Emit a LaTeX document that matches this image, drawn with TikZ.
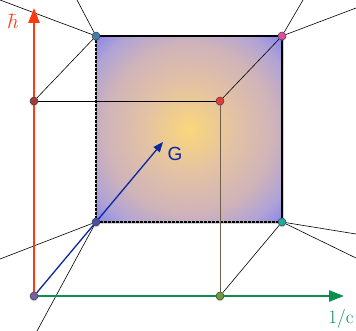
\documentclass[tikz,border=0pt]{standalone}
\usepackage{fontspec}
\newfontfamily\labelsans{Liberation Sans}
\usetikzlibrary{arrows.meta,shadows}
\pgfdeclarelayer{background}
\pgfsetlayers{background,main}
\definecolor{hbarred}{HTML}{FF3A12}
\definecolor{cgreen}{HTML}{0A8F4E}
\definecolor{gblue}{HTML}{0B26A0}
\definecolor{glowin}{HTML}{FAD77A}
\definecolor{glowwarm}{HTML}{E4C3A2}
\definecolor{glowmid}{HTML}{CFB3BA}
\definecolor{glowcool}{HTML}{AFA2D6}
\definecolor{glowout}{HTML}{7678F4}
\definecolor{stemgray}{HTML}{6E6048}
\definecolor{dotorigin}{HTML}{7B5EA7}
\definecolor{dotqm}{HTML}{A83A3A}
\definecolor{dotnqg}{HTML}{3F7FB0}
\definecolor{dottoe}{HTML}{E0509A}
\definecolor{dotgr}{HTML}{22A6A0}
\definecolor{dotng}{HTML}{4B4FA0}
\definecolor{dotqft}{HTML}{E8383A}
\definecolor{dotsr}{HTML}{6E9A3A}
\pgfdeclareradialshading{cubeglow}{\pgfpoint{0bp}{0bp}}{%
  color(0bp)=(glowin); color(7.6bp)=(glowwarm); color(15.3bp)=(glowmid);
  color(20bp)=(glowcool); color(25bp)=(glowout); color(50bp)=(glowout)}

\begin{document}
\begin{tikzpicture}[
  x=1pt, y=-1pt,
  dot/.style={circle, inner sep=0pt, minimum size=8pt, draw=black!75, line width=0.5pt,
    drop shadow={opacity=0.3, shadow xshift=0pt, shadow yshift=-1.5pt}},
  wire/.style={draw=black, line width=0.6pt},
  axis/.style={line width=2.4pt, -{Triangle[length=15pt,width=11pt]}},
  gvec/.style={draw=gblue, line width=1.3pt, -{Triangle[length=10pt,width=8pt]}},
  solidedge/.style={draw=black, line width=1.6pt},
  dashedge/.style={draw=black, line width=1.5pt, dash pattern=on 2.5pt off 1.5pt,
    preaction={draw=black!45, solid}},
  axislabel/.style={font=\fontsize{19}{23}\selectfont}
]
\useasboundingbox (0,0) rectangle (356,331);

\foreach \n/\x/\y/\c in {o/34/296/dotorigin, qm/34/101/dotqm, ng/96/222/dotng,
    nqg/96/36/dotnqg, toe/282/36/dottoe, gr/282/222/dotgr, qft/220/101/dotqft,
    sr/220/296/dotsr} {
  \node[dot, fill=\c] (\n) at (\x,\y) {};
}
\coordinate (htip) at (34,8);
\coordinate (ctip) at (344,296);
\coordinate (gtip) at (163,142);

\node[axislabel, text=hbarred, font=\fontsize{22}{26}\selectfont] (hlabel) at (13,21) {$\hbar$};
\node[axislabel, text=cgreen] (clabel) at (341,319) {1/c};
\node[axislabel, text=gblue, font=\labelsans\fontsize{19}{23}\selectfont] (glabel) at (175,154) {G};

\begin{pgfonlayer}{background}
\fill[white, drop shadow={opacity=0.35, shadow xshift=2pt, shadow yshift=-2pt}]
  (nqg.center) rectangle (gr.center);
\begin{scope}
  \clip (nqg.center) rectangle (gr.center);
  \shade[shading=cubeglow] (189,129) circle (140);
\end{scope}
\draw[dashedge] (nqg) -- (ng) -- (gr);
\draw[solidedge] (nqg) -- (toe) -- (gr);

\foreach \v/\x/\y [count=\i] in {nqg/0/0, nqg/77/0, toe/303/0, toe/356/8,
    gr/356/234, gr/356/258, ng/0/259, ng/37/331} {
  \coordinate (far\i) at (\x,\y);
  \draw[wire] (\v) -- (far\i);
}
\draw[wire] (qm) -- (qft);
\draw[wire] (qm) -- (nqg);
\draw[wire] (qft) -- (toe);
\draw[wire] (sr) -- (gr);
\draw[draw=stemgray, line width=1pt] (qft) -- (sr);

\draw[axis, hbarred] (o) -- (htip);
\draw[axis, cgreen] (o) -- (ctip);
\draw[gvec] (o) -- (gtip);
\end{pgfonlayer}
\end{tikzpicture}
\end{document}
